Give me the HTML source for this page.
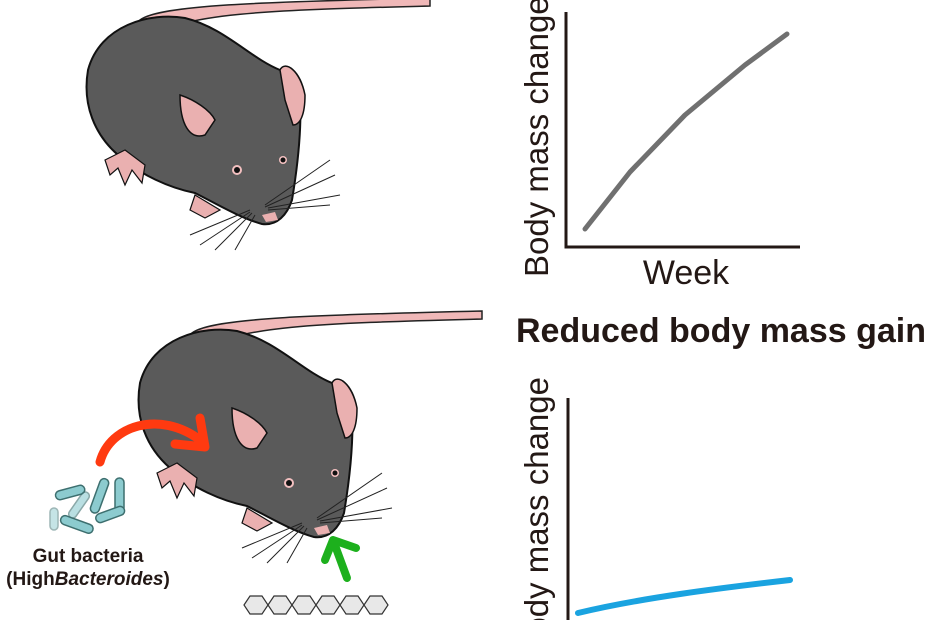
<!DOCTYPE html>
<html><head><style>html,body{margin:0;background:#fff;width:930px;height:620px;overflow:hidden}svg{display:block;overflow:hidden}</style></head><body>
<svg width="930" height="620" viewBox="0 0 930 620" xmlns="http://www.w3.org/2000/svg" font-family="Liberation Sans, sans-serif">
<defs>
<clipPath id="c"><rect x="0" y="0" width="930" height="620"/></clipPath>
<g id="mouse">
 <path d="M140 20 C160 5 260 2 430 -2 L430 6 C280 10 175 12 150 40 Z" fill="#f0b8b8" stroke="#222" stroke-width="1.5"/>
 <path d="M88 70 C100 25 150 12 185 18 C225 28 250 58 280 70 L300 95 C302 130 297 170 292 200 C287 215 277 226 262 224 C240 218 215 203 195 193 C170 188 140 175 118 155 C95 135 82 105 88 70 Z" fill="#5a5a5a" stroke="#111" stroke-width="2"/>
 <path d="M280 70 C285 60 300 70 305 95 C305 115 300 125 293 125 L285 100 Z" fill="#eab0b0" stroke="#111" stroke-width="1.5"/>
 <path d="M180 95 C195 100 210 110 215 120 L205 135 C190 140 180 125 180 95 Z" fill="#eab0b0" stroke="#111" stroke-width="1.5"/>
 <path d="M125 150 L105 160 L110 175 L118 168 L125 185 L132 170 L142 183 L145 165 Z" fill="#eab0b0" stroke="#111" stroke-width="1.2"/>
 <path d="M195 195 L190 210 L205 218 L220 210 Z" fill="#eab0b0" stroke="#111" stroke-width="1.2"/>
 <circle cx="237" cy="170" r="5" fill="#f3c0c0"/><circle cx="237" cy="170" r="3" fill="#111"/>
 <circle cx="283" cy="160" r="4" fill="#f3c0c0"/><circle cx="283" cy="160" r="2.5" fill="#111"/>
 <path d="M262 215 L275 212 L278 220 L266 222 Z" fill="#eab0b0"/>
 <g stroke="#222" stroke-width="1" fill="none">
  <path d="M265 205 L330 160 M265 207 L335 175 M268 208 L340 195 M268 210 L330 205 M250 210 L190 235 M250 212 L200 245 M252 213 L215 250 M255 215 L235 250"/>
 </g>
</g>
</defs>
<g clip-path="url(#c)">
<use href="#mouse"/>
<use href="#mouse" transform="translate(52,313)"/>
<path d="M100 462 C110 425 160 410 200 440" stroke="#ff3a10" stroke-width="9" fill="none" stroke-linecap="round"/>
<path d="M200 418 L205 447 L175 444" stroke="#ff3a10" stroke-width="9" fill="none" stroke-linecap="round" stroke-linejoin="round"/>
<path d="M347 578 L333 540 M325 560 L333 540 L356 548" stroke="#1db01d" stroke-width="8" fill="none" stroke-linecap="round" stroke-linejoin="round"/>
<g stroke="#3d6f6f" stroke-width="1.5" fill="#8ccbcf" stroke-linecap="round">
 <rect x="55" y="488" width="30" height="9" rx="4.5" transform="rotate(-15 70 492)"/>
 <rect x="95" y="478" width="9" height="36" rx="4.5" transform="rotate(20 100 496)"/>
 <rect x="115" y="478" width="9" height="34" rx="4.5"/>
 <rect x="60" y="520" width="34" height="9" rx="4.5" transform="rotate(20 77 524)"/>
 <rect x="95" y="510" width="30" height="9" rx="4.5" transform="rotate(-20 110 514)"/>
 <rect x="75" y="490" width="8" height="30" rx="4" transform="rotate(35 79 505)" opacity="0.6"/>
 <rect x="50" y="508" width="8" height="22" rx="4" opacity="0.5"/>
</g>
<text x="88" y="562" font-size="19" font-weight="bold" text-anchor="middle" fill="#231815">Gut bacteria</text>
<text x="88" y="585" font-size="19" text-anchor="middle" fill="#231815" font-weight="bold">(High<tspan font-style="italic">Bacteroides</tspan>)</text>
<g fill="#e8e8e8" stroke="#333" stroke-width="1.2">
 <path d="M244 605 l6 -9 h12 l6 9 l-6 9 h-12 Z"/><path d="M268 605 l6 -9 h12 l6 9 l-6 9 h-12 Z"/>
 <path d="M292 605 l6 -9 h12 l6 9 l-6 9 h-12 Z"/><path d="M316 605 l6 -9 h12 l6 9 l-6 9 h-12 Z"/>
 <path d="M340 605 l6 -9 h12 l6 9 l-6 9 h-12 Z"/><path d="M364 605 l6 -9 h12 l6 9 l-6 9 h-12 Z"/>
</g>
<path d="M566 12 V247 H800" stroke="#231815" stroke-width="3" fill="none"/>
<path d="M585 229 L630 172 L685 115 L745 65 L787 34" stroke="#707070" stroke-width="5" fill="none" stroke-linecap="round" stroke-linejoin="round"/>
<text x="686" y="284" font-size="34" text-anchor="middle" fill="#231815">Week</text>
<text transform="translate(548,277) rotate(-90)" font-size="33" fill="#231815">Body mass change</text>
<text x="516" y="342" font-size="34" font-weight="bold" fill="#231815">Reduced body mass gain</text>
<path d="M568 398 V620" stroke="#231815" stroke-width="3" fill="none"/>
<path d="M578 613 C640 598 720 588 790 580" stroke="#1aa3e0" stroke-width="6" fill="none" stroke-linecap="round"/>
<text transform="translate(548,377) rotate(-90)" font-size="33" text-anchor="end" fill="#231815">Body mass change</text>
</g>
</svg>
</body></html>
